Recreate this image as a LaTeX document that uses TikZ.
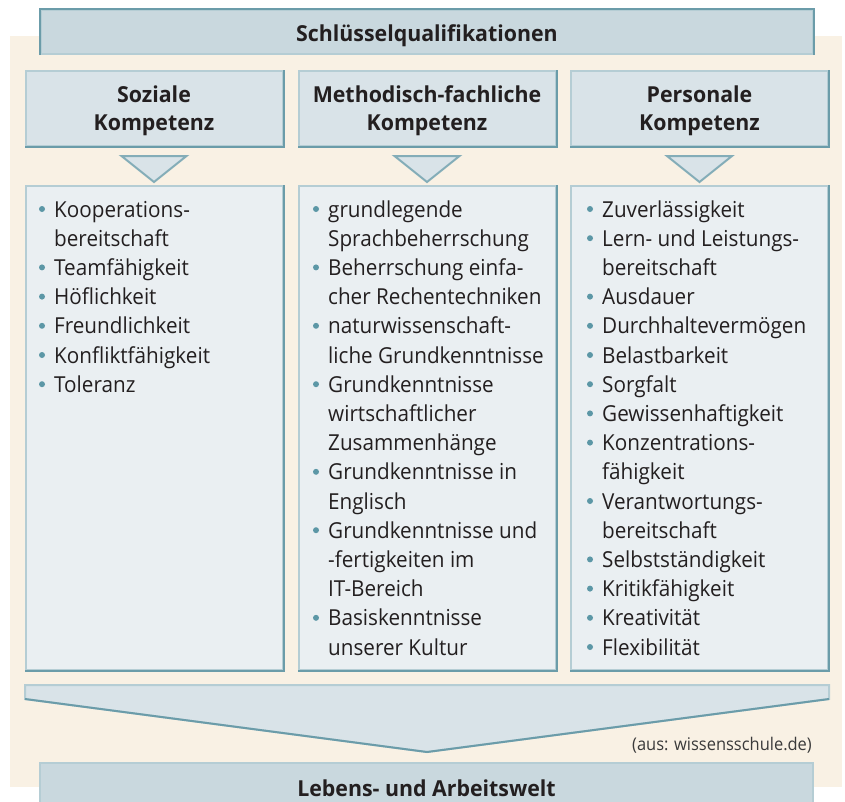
\documentclass[tikz,border=0pt]{standalone}
\usepackage{fontspec}
\setmainfont{Open Sans}[FakeStretch=0.94,BoldFeatures={FakeStretch=0.97}]
\usetikzlibrary{positioning}

\definecolor{hintergrund}{HTML}{F9F1E4}
\definecolor{kopffarbe}{HTML}{C9D8DE}
\definecolor{spaltenkopf}{HTML}{D9E3E8}
\definecolor{listenfeld}{HTML}{EAEFF2}
\definecolor{randdunkel}{HTML}{6B9CA9}
\definecolor{randhell}{HTML}{B5CDD4}
\definecolor{dreieckrand}{HTML}{84ADB8}
\definecolor{punktfarbe}{HTML}{5C97A6}
\definecolor{textdunkel}{HTML}{231F20}
\definecolor{quellgrau}{HTML}{3A3A3A}

\begin{document}
\begin{tikzpicture}[x=1pt,y=-1pt,
    feld/.style={draw=randhell,line width=2pt,inner sep=0pt,text=textdunkel},
    kopf/.style={feld,fill=kopffarbe,text height=24pt,text depth=4.6pt,
        font=\bfseries\fontsize{22}{28}\selectfont},
    spalte/.style={feld,fill=spaltenkopf,minimum width=257pt,minimum height=75pt},
    spaltentext/.style={align=center,inner sep=0pt,text=textdunkel,
        font=\bfseries\fontsize{22}{27.7}\selectfont},
    liste/.style={feld,fill=listenfeld,minimum width=257pt,minimum height=484pt},
    zeile/.style={anchor=base west,inner sep=0pt,text=textdunkel,
        font=\fontsize{22}{28}\selectfont},
    pfeil/.style={fill=spaltenkopf,draw=dreieckrand,line width=2pt,line join=miter}]
	\clip (0,0) rectangle (845,801);
	\fill[hintergrund] (10,36) rectangle (842,787);
	% Kopfzeile
	\node[kopf,minimum width=772pt,minimum height=44pt] (schluessel) at (427,32) {Schlüsselqualifikationen};
	\draw[randdunkel,line width=2pt] (schluessel.south west) -- (schluessel.north west)
		-- (schluessel.north east) -- (schluessel.south east);
	% Spaltenkoepfe und Felder
	\node[spalte] (sozial) at (154,108.5) {};
	\node[spalte] (methodisch) at (427,108.5) {};
	\node[spalte] (personal) at (699.5,108.5) {};
	\node[spaltentext] (sozialtext) at ([yshift=-2.5pt]sozial) {Soziale\\Kompetenz};
	\node[spaltentext] (methodischtext) at ([yshift=-2.5pt]methodisch) {Methodisch-fachliche\\Kompetenz};
	\node[spaltentext] (personaltext) at ([yshift=-2.5pt]personal) {Personale\\Kompetenz};
	\node[liste] (sozialfeld) at (154,428) {};
	\node[liste] (methodischfeld) at (427,428) {};
	\node[liste] (personalfeld) at (699.5,428) {};
	\foreach \n in {sozial,methodisch,personal} {
		\draw[randdunkel,line width=2pt] (\n.north east) -- (\n.south east) -- (\n.south west);
		\draw[randdunkel,line width=2pt] (\n feld.north east) -- (\n feld.south east) -- (\n feld.south west);
		\draw[pfeil] ([xshift=-32.5pt,yshift=-9pt]\n.south) -- ([xshift=32.5pt,yshift=-9pt]\n.south)
			-- ([yshift=-35pt]\n.south) -- cycle;
	}
	% Listen
	\foreach \spalte/\x/\liste in {
		sozial/42/{1/Kooperations-,0/bereitschaft,1/Teamfähigkeit,1/Höflichkeit,1/Freundlichkeit,
			1/Konfliktfähigkeit,1/Toleranz},
		methodisch/316/{1/grundlegende,0/Sprachbeherrschung,1/Beherrschung einfa-,0/cher Rechentechniken,
			1/naturwissenschaft-,0/liche Grundkenntnisse,1/Grundkenntnisse,0/wirtschaftlicher,
			0/Zusammenhänge,1/Grundkenntnisse in,0/Englisch,1/Grundkenntnisse und,
			0/-fertigkeiten im,0/IT-Bereich,1/Basiskenntnisse,0/unserer Kultur},
		personal/590/{1/Zuverlässigkeit,1/Lern- und Leistungs-,0/bereitschaft,1/Ausdauer,
			1/Durchhaltevermögen,1/Belastbarkeit,1/Sorgfalt,1/Gewissenhaftigkeit,1/Konzentrations-,
			0/fähigkeit,1/Verantwortungs-,0/bereitschaft,1/Selbstständigkeit,1/Kritikfähigkeit,
			1/Kreativität,1/Flexibilität}} {
		\foreach \p/\txt [count=\i from 0] in \liste {
			\node[zeile] (\spalte-\i) at (\x+12,217+29.2*\i) {\txt};
			\ifnum\p=1 \fill[punktfarbe] (\x,209+29.2*\i) circle (3pt); \fi
		}
	}
	% Sammelpfeil
	\coordinate (spitze) at (427,752);
	\filldraw[fill=spaltenkopf,draw=randhell,line width=2pt] (25,699) -- (25,685) -- (829,685) -- (829,699)
		-- (spitze) -- cycle;
	\draw[randdunkel,line width=2pt] (25,699) -- (spitze) -- (829,699);
	\node[anchor=base east,inner sep=0pt,font=\fontsize{17.5}{20}\selectfont,text=quellgrau] (quelle)
		at (812,750) {(aus: wissensschule.de)};
	% Fusszeile
	\node[kopf,minimum width=773pt,minimum height=48pt] (lebenswelt) at (426.5,787) {Lebens- und Arbeitswelt};
\end{tikzpicture}
\end{document}
